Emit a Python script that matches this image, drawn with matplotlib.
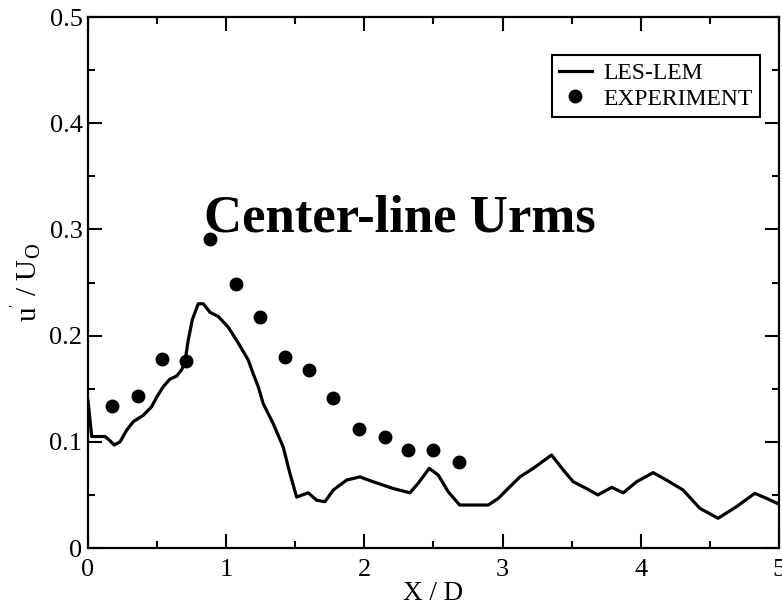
import matplotlib
matplotlib.use("Agg")
import matplotlib.pyplot as plt
from matplotlib.ticker import MultipleLocator, FuncFormatter

plt.rcParams['font.family'] = ['Liberation Serif', 'DejaVu Serif']
plt.rcParams['mathtext.fontset'] = 'custom'
plt.rcParams['mathtext.rm'] = 'Liberation Serif'
plt.rcParams['mathtext.it'] = 'Liberation Serif:italic'

# LES-LEM centre-line u'/U_O
les_x = [0.0, 0.027, 0.063, 0.123, 0.152, 0.19, 0.232, 0.28, 0.328, 0.40, 0.46, 0.497,
         0.545, 0.593, 0.642, 0.678, 0.70, 0.726, 0.755, 0.798, 0.835, 0.883, 0.943,
         1.015, 1.088, 1.16, 1.196, 1.232, 1.268, 1.341, 1.413, 1.462, 1.51, 1.594,
         1.655, 1.715, 1.775, 1.872, 1.968, 2.064, 2.21, 2.33, 2.39, 2.47, 2.535,
         2.607, 2.69, 2.897, 2.97, 3.04, 3.126, 3.222, 3.355, 3.44, 3.512, 3.608,
         3.69, 3.79, 3.874, 3.97, 4.09, 4.187, 4.307, 4.428, 4.56, 4.694, 4.826,
         4.91, 5.0]
les_y = [0.139, 0.105, 0.105, 0.105, 0.102, 0.097, 0.100, 0.111, 0.119, 0.125, 0.133, 0.142,
         0.152, 0.159, 0.162, 0.168, 0.174, 0.196, 0.215, 0.230, 0.230, 0.222, 0.218,
         0.208, 0.193, 0.177, 0.164, 0.152, 0.136, 0.117, 0.095, 0.070, 0.048, 0.052,
         0.045, 0.0436, 0.0546, 0.064, 0.067, 0.0624, 0.056, 0.052, 0.061, 0.075, 0.0687,
         0.053, 0.0405, 0.0405, 0.0468, 0.056, 0.067, 0.075, 0.0876, 0.0734, 0.0624, 0.056,
         0.050, 0.0571, 0.052, 0.0624, 0.071, 0.064, 0.0546, 0.0374, 0.028, 0.039, 0.0515,
         0.0468, 0.0414]

# Experiment
exp_x = [0.174, 0.36, 0.535, 0.71, 0.883, 1.07, 1.245, 1.425, 1.60, 1.77, 1.96,
         2.15, 2.315, 2.50, 2.685]
exp_y = [0.134, 0.143, 0.178, 0.176, 0.291, 0.249, 0.2175, 0.180, 0.168, 0.141, 0.112,
         0.1045, 0.092, 0.092, 0.081]

fig = plt.figure(figsize=(7.82, 6.10), dpi=100)
ax = fig.add_axes([0.1125, 0.1016, 0.8835, 0.8704])

ax.plot(les_x, les_y, color='black', lw=2.3, label='LES-LEM', solid_joinstyle='round')
ax.plot(exp_x, exp_y, 'o', color='black', ms=9, label='EXPERIMENT')

ax.set_xlim(0, 5)
ax.set_ylim(0, 0.5)
ax.xaxis.set_major_locator(MultipleLocator(1))
ax.xaxis.set_minor_locator(MultipleLocator(0.5))
ax.yaxis.set_major_locator(MultipleLocator(0.1))
ax.yaxis.set_minor_locator(MultipleLocator(0.05))
ax.yaxis.set_major_formatter(FuncFormatter(lambda v, p: '0' if abs(v) < 1e-9 else f'{v:.1f}'))
ax.xaxis.set_major_formatter(FuncFormatter(lambda v, p: f'{v:.0f}'))

ax.tick_params(which='both', direction='in', top=True, right=True, width=1.5, labelsize=19)
ax.tick_params(which='major', length=10)
ax.tick_params(which='minor', length=5)
ax.tick_params(axis='x', pad=8)
ax.tick_params(axis='y', pad=4)
for s in ax.spines.values():
    s.set_linewidth(1.6)

ax.set_xlabel('X / D', fontsize=19.5, labelpad=0)
ax.set_ylabel(r"u$^{'}$ / U$_{\mathrm{O}}$", fontsize=21, labelpad=4)

ax.text(2.26, 0.3105, 'Center-line Urms', fontsize=38, fontweight='bold',
        ha='center', va='center')

leg = ax.legend(loc='upper left', bbox_to_anchor=(0.671, 0.928), borderaxespad=0,
                fancybox=False, edgecolor='black', framealpha=1, fontsize=17,
                numpoints=1, handlelength=1.4, handletextpad=0.5, borderpad=0.3,
                labelspacing=0.18)
leg.get_frame().set_linewidth(1.5)

fig.savefig('out.png', dpi=100)
